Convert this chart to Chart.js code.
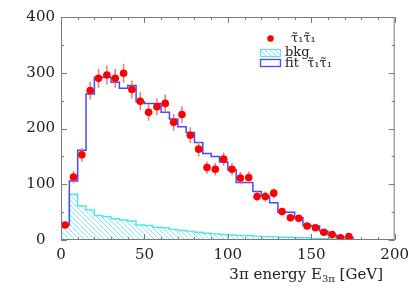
<!DOCTYPE html>
<html>
<head>
<meta charset="utf-8">
<script src="https://cdn.jsdelivr.net/npm/chart.js@4.4.1/dist/chart.umd.min.js"></script>
<style>
  html, body { margin: 0; padding: 0; background: #fff; }
  #wrap { width: 415px; height: 291px; }
</style>
</head>
<body>
<div id="wrap"><canvas id="energyChart" width="415" height="291"></canvas></div>
<script>
// 5 GeV bins starting at 0
const binWidth = 5;
const xMax = 200;
const yMax = 400;

// measured stau stau candidates (bin contents) and their errors
const dataCounts = [27, 113, 153, 268, 290, 296, 290, 299, 270, 249, 229, 239, 245, 211, 225, 188, 163, 130,
    127, 145, 127, 111, 112, 78, 78, 84, 51, 40, 39, 25, 22, 14, 10, 4, 6];
const dataErrors = [5, 11, 12, 16, 17, 17, 17, 17, 16, 16, 15, 15, 16, 15, 15, 14, 13, 11,
    11, 12, 11, 11, 11, 9, 9, 9, 7, 6, 6, 5, 5, 4, 3, 2, 2];
const xErrHalf = 1.5;

// fit histogram (signal + bkg)
const fitCounts = [27, 106, 161, 262, 292, 292, 283, 272, 277, 248, 245, 245, 229, 217, 203, 193, 175, 155,
    150, 140, 126, 103, 103, 87, 79, 67, 50, 50, 40, 26, 25, 16, 9, 5, 5, 0, 0, 0, 0, 0];

// background histogram
const bkgCounts = [27, 82, 61, 54, 44, 42, 38, 36, 34, 27, 26, 23, 22, 19, 17, 16, 14, 12,
    11, 10, 9, 8, 8, 7, 6, 6, 5, 5, 4, 4, 3, 3, 2, 2, 1];

const legendLabels = ['τ̃₁τ̃₁', 'bkg', 'fit  τ̃₁τ̃₁'];

const serif = "'DejaVu Serif', 'Liberation Serif', serif";

function stepPoints(counts) {
    const pts = counts.map((v, i) => ({ x: i * binWidth, y: v }));
    pts.push({ x: counts.length * binWidth, y: 0 });
    return pts;
}

function makeHatch() {
    const c = document.createElement('canvas');
    c.width = 5; c.height = 5;
    const g = c.getContext('2d');
    g.strokeStyle = '#6fe9ee';
    g.lineWidth = 0.9;
    g.beginPath();
    g.moveTo(-1, -1); g.lineTo(6, 6);
    g.moveTo(-1, 4); g.lineTo(1, 6);
    g.moveTo(4, -1); g.lineTo(6, 1);
    g.stroke();
    return g.createPattern(c, 'repeat');
}
const ctx = document.getElementById('energyChart').getContext('2d');
const hatch = makeHatch();

const dataPoints = dataCounts.map((v, i) => ({ x: i * binWidth + binWidth / 2, y: v }));

const errorBars = {
    id: 'errorBars',
    beforeDatasetDraw(chart, args) {
        if (args.index !== 0) return;
        const { ctx, scales: { x, y } } = chart;
        ctx.save();
        ctx.strokeStyle = '#f27878';
        ctx.lineWidth = 1.5;
        ctx.beginPath();
        dataPoints.forEach((p, i) => {
            const px = x.getPixelForValue(p.x);
            const py = y.getPixelForValue(p.y);
            ctx.moveTo(px, y.getPixelForValue(p.y - dataErrors[i]));
            ctx.lineTo(px, y.getPixelForValue(p.y + dataErrors[i]));
            ctx.moveTo(x.getPixelForValue(p.x - xErrHalf), py);
            ctx.lineTo(x.getPixelForValue(p.x + xErrHalf), py);
        });
        ctx.stroke();
        ctx.restore();
    }
};

const frameAndLabels = {
    id: 'frameAndLabels',
    afterDraw(chart) {
        const { ctx, chartArea: a, scales: { x, y } } = chart;
        ctx.save();
        // frame with inward ticks
        ctx.strokeStyle = '#7a7a7a';
        ctx.lineWidth = 1;
        ctx.beginPath();
        ctx.rect(a.left + 0.5, a.top + 0.5, a.width - 1, a.height - 1);
        for (let v = 0; v <= xMax; v += 10) {
            const px = Math.round(x.getPixelForValue(v)) + 0.5;
            const len = v % 50 === 0 ? 6 : 3;
            ctx.moveTo(px, a.bottom); ctx.lineTo(px, a.bottom - len);
            ctx.moveTo(px, a.top); ctx.lineTo(px, a.top + len);
        }
        for (let v = 0; v <= yMax; v += 50) {
            const py = Math.round(y.getPixelForValue(v)) + 0.5;
            const len = v % 100 === 0 ? 6 : 3;
            ctx.moveTo(a.left, py); ctx.lineTo(a.left + len, py);
            ctx.moveTo(a.right, py); ctx.lineTo(a.right - len, py);
        }
        ctx.stroke();

        // legend
        ctx.fillStyle = '#ff0000';
        ctx.beginPath();
        ctx.arc(270.5, 38.5, 3.2, 0, Math.PI * 2);
        ctx.fill();
        ctx.fillStyle = hatch;
        ctx.fillRect(260, 49, 21, 8);
        ctx.strokeStyle = '#55e6ec';
        ctx.strokeRect(260.5, 49.5, 20, 7);
        ctx.strokeStyle = '#5050ff';
        ctx.lineWidth = 1.4;
        ctx.strokeRect(260.5, 59.5, 20, 7);
        ctx.fillStyle = '#222';
        ctx.textBaseline = 'middle';
        ctx.font = '13px ' + serif;
        ctx.fillText(legendLabels[0], 291, 39);
        ctx.fillText(legendLabels[1], 285, 53);
        ctx.fillText(legendLabels[2], 285, 64);

        // x axis title, right aligned
        ctx.textBaseline = 'alphabetic';
        ctx.textAlign = 'left';
        const big = '15px ' + serif, small = '10px ' + serif;
        const t1 = '3π energy E', t2 = '3π', t3 = ' [GeV]';
        ctx.font = big;
        const w1 = ctx.measureText(t1).width, w3 = ctx.measureText(t3).width;
        ctx.font = small;
        const w2 = ctx.measureText(t2).width;
        let tx = 383 - (w1 + w2 + w3);
        const ty = 279;
        ctx.font = big; ctx.fillText(t1, tx, ty); tx += w1;
        ctx.font = small; ctx.fillText(t2, tx, ty + 3); tx += w2;
        ctx.font = big; ctx.fillText(t3, tx, ty);
        ctx.restore();
    }
};

const chart = new Chart(ctx, {
    type: 'scatter',
    data: {
        datasets: [
            {
                label: 'data',
                data: dataPoints,
                pointRadius: 3.8,
                pointBackgroundColor: '#ff0000',
                pointBorderWidth: 0,
                order: 0
            },
            {
                label: 'fit',
                type: 'line',
                data: stepPoints(fitCounts),
                stepped: 'before',
                borderColor: '#4848ff',
                borderWidth: 1.5,
                pointRadius: 0,
                fill: false,
                order: 1
            },
            {
                label: 'bkg',
                type: 'line',
                data: stepPoints(bkgCounts),
                stepped: 'before',
                borderColor: '#50e6ec',
                borderWidth: 1.4,
                backgroundColor: hatch,
                fill: 'origin',
                pointRadius: 0,
                order: 2
            }
        ]
    },
    options: {
        responsive: false,
        animation: false,
        layout: { padding: { left: 0, top: 17, right: 20, bottom: 0 } },
        plugins: { legend: { display: false }, tooltip: { enabled: false } },
        scales: {
            x: {
                type: 'linear', min: 0, max: xMax,
                afterFit(s) { s.height = 51; },
                grid: { display: false, drawTicks: false },
                border: { display: false },
                ticks: { stepSize: 50, padding: 6, maxRotation: 0, color: '#222', font: { family: serif, size: 15 } }
            },
            y: {
                min: 0, max: yMax,
                afterFit(s) { s.width = 61; },
                grid: { display: false, drawTicks: false },
                border: { display: false },
                ticks: {
                    stepSize: 100, padding: 6, color: '#222', font: { family: serif, size: 15 },
                    callback: v => (v === 0 ? '0  ' : String(v))
                }
            }
        }
    },
    plugins: [errorBars, frameAndLabels]
});
</script>
</body>
</html>
